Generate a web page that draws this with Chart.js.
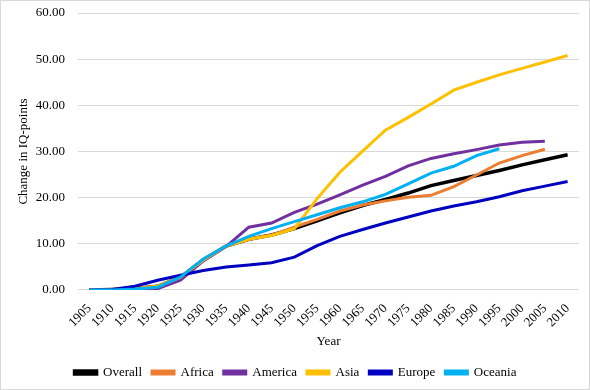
<!DOCTYPE html>
<html>
<head>
<meta charset="utf-8">
<script src="https://cdn.jsdelivr.net/npm/chart.js@4"></script>
<style>
  body { margin: 0; background: #fff; }
  #wrap { width: 590px; height: 390px; box-sizing: border-box; border: 1px solid #d9d9d9; }
  canvas { display: block; }
</style>
</head>
<body>
<div id="wrap"><canvas id="iqChart" width="588" height="388"></canvas></div>
<script>
// Years (category axis)
const years = ['1905', '1910', '1915', '1920', '1925', '1930', '1935', '1940', '1945', '1950', '1955',
    '1960', '1965', '1970', '1975', '1980', '1985', '1990', '1995', '2000', '2005', '2010'];

// Change in IQ-points per region
const overall = [0, 0.1, 0.3, 0.8, 2.8, 6.5, 9.5, 11.0, 11.9, 13.3, 15.0, 16.7, 18.3, 19.6, 21.0, 22.6, 23.7, 24.8, 25.9, 27.1, 28.2, 29.3];
const africa = [0, 0.1, 0.3, 0.8, 2.8, 6.5, 9.5, 11.0, 11.9, 13.6, 15.3, 17.1, 18.4, 19.3, 20.1, 20.5, 22.4, 24.9, 27.5, 29.1, 30.5, null];
const america = [0, 0, 0.2, 0.3, 2.1, 6.3, 9.4, 13.6, 14.5, 16.8, 18.6, 20.6, 22.7, 24.6, 26.9, 28.5, 29.5, 30.4, 31.4, 32.0, 32.2, null];
const asia = [0, 0.1, 0.3, 0.8, 2.8, 6.5, 9.5, 11.0, 11.8, 13.3, 19.8, 25.5, 30.1, 34.6, 37.4, 40.3, 43.3, 45.0, 46.6, 48.0, 49.4, 50.8];
const europe = [0, 0.1, 0.8, 2.1, 3.2, 4.2, 5.0, 5.4, 5.9, 7.1, 9.6, 11.6, 13.1, 14.5, 15.8, 17.1, 18.2, 19.1, 20.2, 21.5, 22.5, 23.5];
const oceania = [0, 0, 0.2, 0.6, 2.8, 6.7, 9.5, 11.6, 13.3, 14.8, 16.3, 17.8, 19.1, 20.7, 23.0, 25.3, 26.8, 29.1, 30.6, null, null, null];

const seriesNames = ['Overall', 'Africa', 'America', 'Asia', 'Europe', 'Oceania'];
const seriesData = [overall, africa, america, asia, europe, oceania];
const seriesColors = ['#000000', '#ED7D31', '#7030A0', '#FFC000', '#0000C0', '#00B0F0'];

const serif = '"Liberation Serif", "Times New Roman", serif';

// later series drawn on top, like the original
const datasets = seriesNames.map((name, i) => ({
    label: name,
    data: seriesData[i],
    borderColor: seriesColors[i],
    backgroundColor: seriesColors[i],
    borderWidth: i === 0 ? 3.5 : 3,
    pointRadius: 0,
    tension: 0,
    spanGaps: false,
    order: seriesNames.length - i
}));

const ctx = document.getElementById('iqChart').getContext('2d');
new Chart(ctx, {
    type: 'line',
    data: { labels: years, datasets: datasets },
    options: {
        responsive: false,
        animation: false,
        layout: { padding: { left: 11, right: 10, top: 0, bottom: 0 } },
        plugins: {
            tooltip: { enabled: false },
            legend: {
                position: 'bottom',
                labels: {
                    font: { family: serif, size: 13 },
                    color: '#000',
                    boxWidth: 22,
                    boxHeight: 3,
                    padding: 10,
                    sort: (a, b) => a.datasetIndex - b.datasetIndex
                }
            }
        },
        scales: {
            x: {
                offset: true,
                grid: { display: false },
                border: { display: false },
                ticks: {
                    font: { family: serif, size: 13 },
                    color: '#000',
                    minRotation: 45,
                    maxRotation: 45,
                    autoSkip: false
                },
                title: {
                    display: true,
                    text: 'Year',
                    font: { family: serif, size: 13 },
                    color: '#000',
                    padding: { top: 0, bottom: 7 }
                }
            },
            y: {
                min: 0,
                max: 60,
                afterFit: scale => {
                    scale.width = 66;
                    scale.paddingTop = 12;
                },
                grid: { color: '#d9d9d9', lineWidth: 1, drawTicks: false },
                border: { display: false },
                ticks: {
                    stepSize: 10,
                    padding: 13,
                    font: { family: serif, size: 13 },
                    color: '#000',
                    callback: v => v.toFixed(2)
                },
                title: {
                    display: true,
                    text: 'Change in IQ-points',
                    font: { family: serif, size: 13 },
                    color: '#000',
                    padding: 4
                }
            }
        }
    }
});
</script>
</body>
</html>
